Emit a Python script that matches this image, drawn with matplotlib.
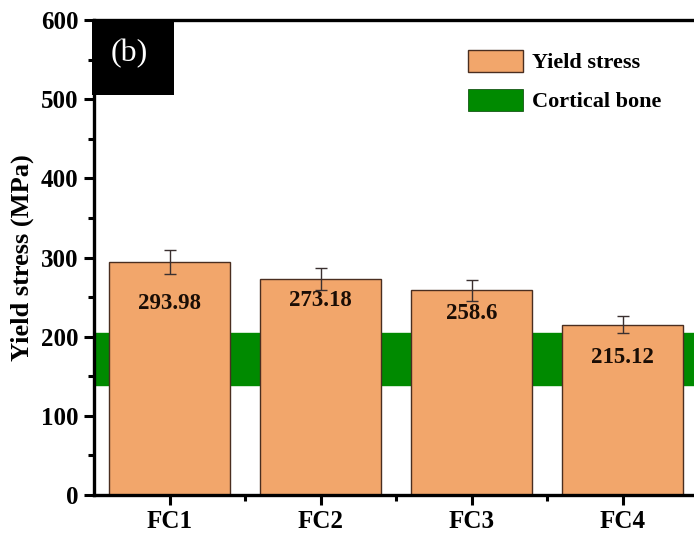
import numpy as np
import matplotlib
matplotlib.use("Agg")
import matplotlib.pyplot as plt
from matplotlib.patches import Patch, Rectangle

plt.rcParams['font.family'] = ['Liberation Serif', 'DejaVu Serif']
plt.rcParams['font.weight'] = 'bold'

# Yield stress per sample with error bars
samples = ['FC1', 'FC2', 'FC3', 'FC4']
yield_stress = [293.98, 273.18, 258.6, 215.12]
yield_err = [15, 14, 13, 11]
value_labels = ['293.98', '273.18', '258.6', '215.12']

# Cortical bone yield stress range (MPa)
bone_low, bone_high = 139, 205

fig = plt.figure(figsize=(6.94, 5.38), dpi=100)
ax = fig.add_axes([0.1354, 0.0799, 0.871, 0.8829])

x = np.arange(1, len(samples) + 1)

ax.axhspan(bone_low, bone_high, color='#008a00', zorder=1)
ax.bar(x, yield_stress, width=0.8, color='#f2a66b', edgecolor='#4a2e20',
       linewidth=1.0, zorder=2)
ax.errorbar(x, yield_stress, yerr=yield_err, fmt='none', ecolor='#3a3030',
            elinewidth=1.0, capsize=4.5, capthick=1.0, zorder=3)

# value labels inside the bars
label_drop = [52, 27, 29, 42]
for xi, v, lab, d in zip(x, yield_stress, value_labels, label_drop):
    ax.text(xi, v - d, lab, ha='center', va='center', fontsize=16.5,
            fontweight='bold', color='#1a0d05', zorder=4)

ax.set_xlim(0.5, 4.5)
ax.set_ylim(0, 600)
ax.set_xticks(x)
ax.set_xticklabels(samples)
ax.set_xticks(x[:-1] + 0.5, minor=True)
ax.set_yticks(np.arange(0, 601, 100))
ax.set_yticks(np.arange(50, 600, 100), minor=True)
ax.tick_params(axis='both', which='major', direction='out', length=7,
               width=2.2, labelsize=18, pad=4)
ax.tick_params(axis='both', which='minor', direction='out', length=4,
               width=2.2)
for lbl in ax.get_xticklabels() + ax.get_yticklabels():
    lbl.set_fontweight('bold')
for s in ax.spines.values():
    s.set_linewidth(2.4)

ax.set_ylabel('Yield stress (MPa)', fontsize=19, fontweight='bold', labelpad=5)

# panel tag
ax.add_patch(Rectangle((-0.004, 0.842), 0.136, 0.158, transform=ax.transAxes,
                       facecolor='black', edgecolor='none', zorder=5,
                       clip_on=False))
ax.text(0.058, 0.93, '(b)', transform=ax.transAxes, color='white',
        fontsize=23, fontweight='normal', ha='center', va='center', zorder=6)

handles = [Patch(facecolor='#f2a66b', edgecolor='#4a2e20', linewidth=1.0,
                 label='Yield stress'),
           Patch(facecolor='#008a00', edgecolor='#004000', linewidth=0.5,
                 label='Cortical bone')]
ax.legend(handles=handles, loc='upper left', bbox_to_anchor=(0.585, 0.98),
          frameon=False, prop={'family': 'Liberation Serif', 'weight': 'bold',
                               'size': 16},
          handlelength=2.5, handleheight=1.15, labelspacing=0.7,
          handletextpad=0.4)

fig.savefig('out.png', dpi=100)
